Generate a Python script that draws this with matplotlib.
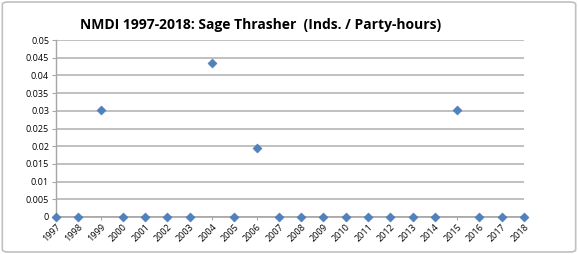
import matplotlib
matplotlib.use("Agg")
import matplotlib.pyplot as plt
from matplotlib.patches import FancyBboxPatch

years = ["1997", "1998", "1999", "2000", "2001", "2002", "2003", "2004", "2005", "2006", "2007",
         "2008", "2009", "2010", "2011", "2012", "2013", "2014", "2015", "2016", "2017", "2018"]
values = [0, 0, 0.0302, 0, 0, 0, 0, 0.0435, 0, 0.0195, 0,
          0, 0, 0, 0, 0, 0, 0, 0.0302, 0, 0, 0]
yticks = [0, 0.005, 0.01, 0.015, 0.02, 0.025, 0.03, 0.035, 0.04, 0.045, 0.05]
ytick_labels = ["0", "0.005", "0.01", "0.015", "0.02", "0.025", "0.03", "0.035", "0.04", "0.045", "0.05"]
title = "NMDI 1997-2018: Sage Thrasher  (Inds. / Party-hours)"

plt.rcParams['font.family'] = ['Open Sans', 'DejaVu Sans']

fig = plt.figure(figsize=(5.78, 2.54), dpi=100)
fig.patch.set_facecolor("white")
border = FancyBboxPatch((0.004, 0.008), 0.992, 0.984, boxstyle="round,pad=0,rounding_size=0.01",
                        transform=fig.transFigure, fill=False, edgecolor="#c0c0c0", linewidth=1.2)
fig.patches.append(border)

ax = fig.add_axes([56/578, 1-217/254, (524-56)/578, (217-40)/254])
x = list(range(len(years)))
ax.scatter(x, values, marker="D", s=22, color="#4f81bd", edgecolor="#4a7ab5", linewidth=0.3, zorder=3, clip_on=False)
ax.set_xlim(0, len(years)-1)
ax.set_ylim(0, 0.05)
ax.set_yticks(yticks)
ax.set_yticklabels(ytick_labels, fontsize=6.5)
ax.set_xticks(x)
ax.set_xticklabels(years, rotation=45, ha="right", rotation_mode="anchor", fontsize=6.5)
ax.yaxis.grid(True, color="#bbbbbb", linewidth=1.3)
ax.set_axisbelow(True)
for s in ["top", "right"]:
    ax.spines[s].set_visible(False)
ax.spines["left"].set_color("#a6a6a6")
ax.spines["bottom"].set_color("#a6a6a6")
ax.spines["left"].set_linewidth(1.0)
ax.spines["bottom"].set_linewidth(1.2)
ax.tick_params(axis="y", length=3, color="#a6a6a6", pad=2)
ax.tick_params(axis="x", length=2, color="#a6a6a6", pad=2)
fig.text(261/578, 1-25/254, title, ha="center", va="center", fontsize=10, fontweight="bold")
fig.savefig("out.png", dpi=100)
